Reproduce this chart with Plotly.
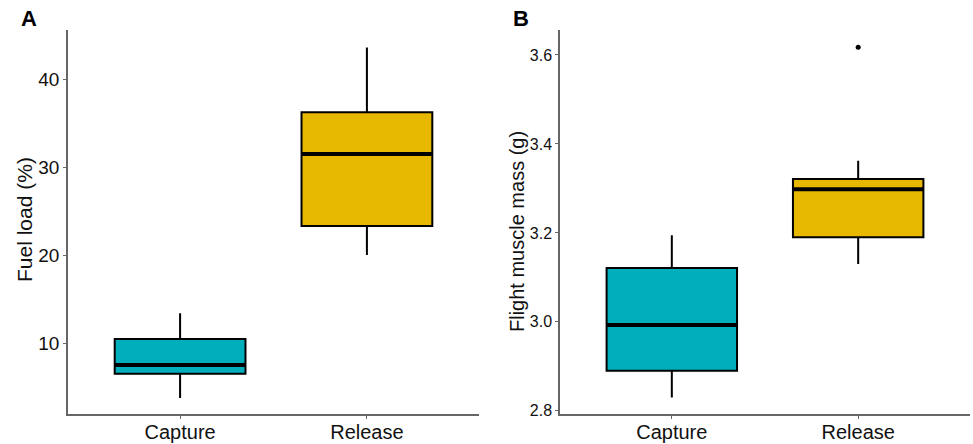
import plotly.graph_objects as go

groups = ["Capture", "Release"]
colors = ["#00AFBB", "#E7B800"]

# Panel A: Fuel load (%)
fuel_low = [3.75, 20.0]
fuel_q1 = [6.5, 23.3]
fuel_med = [7.5, 31.5]
fuel_q3 = [10.45, 36.25]
fuel_high = [13.4, 43.6]

# Panel B: Flight muscle mass (g)
mus_low = [2.83, 3.13]
mus_q1 = [2.89, 3.19]
mus_med = [2.993, 3.298]
mus_q3 = [3.121, 3.321]
mus_high = [3.195, 3.362]
mus_outlier_group = [1]
mus_outlier_val = [3.617]

box_w = 0.7
fig = go.Figure()

def add_panel(low, q1, med, q3, high, xa, ya):
    for i, g in enumerate(groups):
        fig.add_trace(go.Box(
            x=[i], lowerfence=[low[i]], q1=[q1[i]], median=[med[i]],
            q3=[q3[i]], upperfence=[high[i]], width=box_w, whiskerwidth=0,
            fillcolor=colors[i], line=dict(color="black", width=2),
            boxpoints=False, showlegend=False, xaxis=xa, yaxis=ya,
            hoverinfo="skip"))
        fig.add_trace(go.Scatter(
            x=[i - box_w / 2, i + box_w / 2], y=[med[i], med[i]],
            mode="lines", line=dict(color="black", width=4),
            showlegend=False, xaxis=xa, yaxis=ya, hoverinfo="skip"))

add_panel(fuel_low, fuel_q1, fuel_med, fuel_q3, fuel_high, "x", "y")
add_panel(mus_low, mus_q1, mus_med, mus_q3, mus_high, "x2", "y2")
fig.add_trace(go.Scatter(
    x=mus_outlier_group, y=mus_outlier_val, mode="markers",
    marker=dict(color="black", size=5), showlegend=False,
    xaxis="x2", yaxis="y2", hoverinfo="skip"))

axis_common = dict(showline=True, linecolor="#666666", linewidth=1.5,
                   ticks="outside", ticklen=3, tickcolor="#666666",
                   showgrid=False, zeroline=False, automargin=False)
W, H = 973, 444
ydom = [(H - 414) / H, (H - 30) / H]

def px_x(v):
    return v / W

def px_y(v):
    return (H - v) / H

fig.update_layout(
    template="none",
    width=W, height=H, margin=dict(l=0, r=0, t=0, b=0),
    paper_bgcolor="white", plot_bgcolor="white",
    font=dict(family="Liberation Sans, Arial, sans-serif", color="#111111"),
    boxmode="overlay",
    xaxis=dict(domain=[px_x(68), px_x(479)], range=[-0.6, 1.6],
               tickvals=[0, 1], ticktext=groups, ticklabelstandoff=-4,
               tickfont=dict(size=20), anchor="y", **axis_common),
    yaxis=dict(domain=ydom, range=[1.93, 45.6], tickvals=[10, 20, 30, 40],
               tickfont=dict(size=19), anchor="x", **axis_common),
    xaxis2=dict(domain=[px_x(560), px_x(970)], range=[-0.6, 1.6],
                tickvals=[0, 1], ticktext=groups, ticklabelstandoff=-4,
                tickfont=dict(size=20), anchor="y2", **axis_common),
    yaxis2=dict(domain=ydom, range=[2.793, 3.656],
                tickvals=[2.8, 3.0, 3.2, 3.4, 3.6], tickformat=".1f",
                tickfont=dict(size=16), anchor="x2", **axis_common),
    annotations=[
        dict(text="<b>A</b>", x=px_x(29), y=px_y(18), xref="paper", yref="paper",
             showarrow=False, font=dict(size=22, color="black"),
             xanchor="center", yanchor="middle"),
        dict(text="<b>B</b>", x=px_x(521), y=px_y(18.5), xref="paper", yref="paper",
             showarrow=False, font=dict(size=22, color="black"),
             xanchor="center", yanchor="middle"),
        dict(text="Fuel load (%)", x=px_x(24), y=px_y(220), xref="paper", yref="paper",
             showarrow=False, textangle=-90, font=dict(size=21, color="#111111"),
             xanchor="center", yanchor="middle"),
        dict(text="Flight muscle mass (g)", x=px_x(517), y=px_y(232), xref="paper",
             yref="paper", showarrow=False, textangle=-90,
             font=dict(size=20, color="#111111"), xanchor="center", yanchor="middle"),
    ],
)

fig.write_html("out.html", post_script="document.body.style.margin='0';",
               config={"displayModeBar": False})
